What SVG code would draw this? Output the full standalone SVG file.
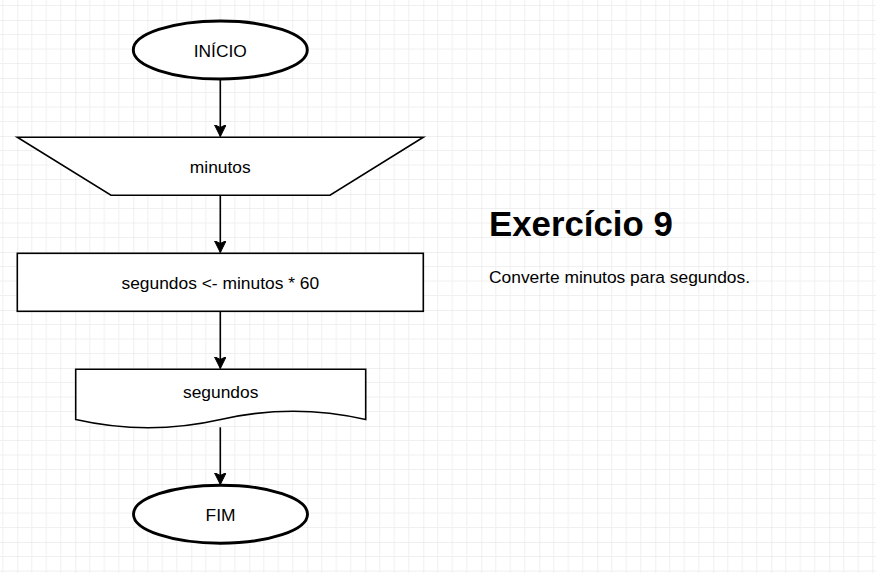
<svg xmlns="http://www.w3.org/2000/svg" width="876" height="573" viewBox="0 0 876 573">
  <style>
    .shape { fill: #ffffff; stroke: #000000; stroke-width: 1.6; }
    .term { fill: #ffffff; stroke: #000000; stroke-width: 2.9; }
    .lbl { font-family: "Liberation Sans", Arial, sans-serif; font-size: 17.4px; fill: #000000; text-anchor: middle; }
    .edge { fill: none; stroke: #000000; stroke-width: 1.6; }
    .head { font-family: "Liberation Sans", Arial, sans-serif; font-size: 34.8px; font-weight: bold; fill: #000000; }
    .body { font-family: "Liberation Sans", Arial, sans-serif; font-size: 17.4px; fill: #000000; }
  </style>
  <defs>
    <pattern id="grid" x="17.3" y="20" width="58" height="58" patternUnits="userSpaceOnUse">
      <path d="M14.5 0V58M29 0V58M43.5 0V58M0 14.5H58M0 29H58M0 43.5H58" fill="none" stroke="#f0f0f0" stroke-width="1"/>
      <path d="M0 0V58M0 0H58" fill="none" stroke="#e0e0e0" stroke-width="1"/>
    </pattern>
    <marker id="arrow" viewBox="0 0 12 12" refX="12" refY="6" markerWidth="12" markerHeight="12" markerUnits="userSpaceOnUse" orient="auto">
      <path d="M0,0 L12,6 L0,12 L3,6 Z" fill="#000000" stroke="#000000" stroke-width="1"/>
    </marker>
  </defs>
  <rect width="876" height="573" fill="#ffffff"/>
  <rect width="876" height="573" fill="url(#grid)"/>

  <g id="connectors">
    <path class="edge" d="M220.3 79.5V136.5" marker-end="url(#arrow)"/>
    <path class="edge" d="M220.3 195.3V252.5" marker-end="url(#arrow)"/>
    <path class="edge" d="M220.3 311.3V368.5" marker-end="url(#arrow)"/>
    <path class="edge" d="M220.3 427.3V484.5" marker-end="url(#arrow)"/>
  </g>

  <g id="inicio">
    <ellipse class="term" cx="220.3" cy="50" rx="87" ry="29"/>
    <text class="lbl" x="220.3" y="57.3">INÍCIO</text>
  </g>

  <g id="entrada-minutos">
    <polygon class="shape" points="17.3,137.3 423.3,137.3 330,195.3 111,195.3"/>
    <text class="lbl" x="220.3" y="173.3">minutos</text>
  </g>

  <g id="processo">
    <rect class="shape" x="17.3" y="253.3" width="406" height="58"/>
    <text class="lbl" x="220.3" y="289">segundos &lt;- minutos * 60</text>
  </g>

  <g id="saida-segundos">
    <path class="shape" d="M75.7 369.3H365.7V419.5Q293.2 403 220.7 419.5Q148.2 436 75.7 419.5Z"/>
    <text class="lbl" x="220.7" y="397.5">segundos</text>
  </g>

  <g id="fim">
    <ellipse class="term" cx="220.5" cy="514.2" rx="87" ry="29"/>
    <text class="lbl" x="220.5" y="520.7">FIM</text>
  </g>

  <g id="titulo">
    <text class="head" x="489" y="235.7">Exercício 9</text>
    <text class="body" x="489" y="283.3">Converte minutos para segundos.</text>
  </g>
</svg>
